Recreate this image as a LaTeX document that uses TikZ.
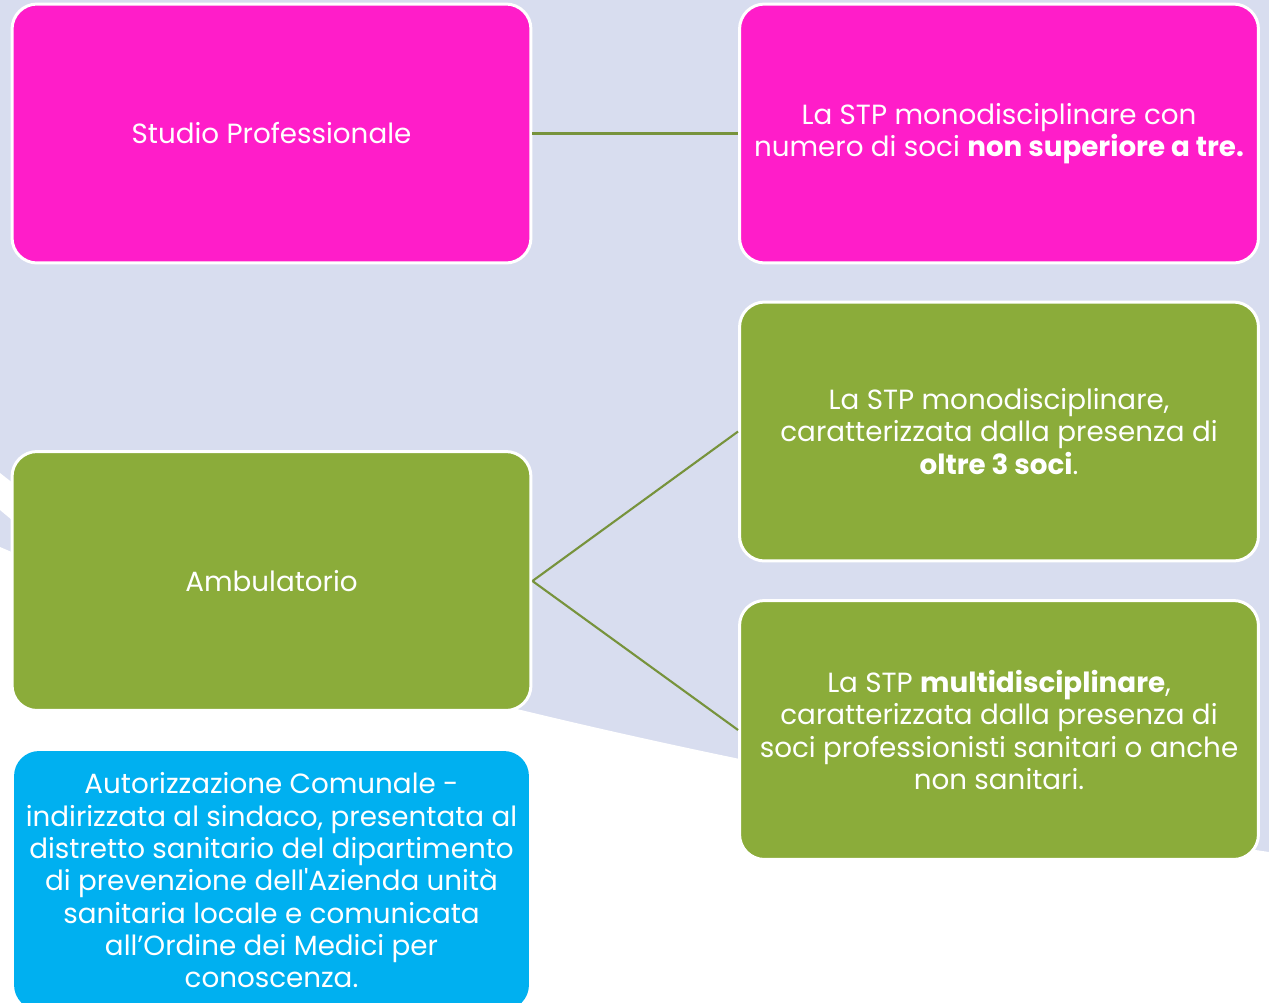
\documentclass[tikz,border=0pt]{standalone}
\usepackage{fontspec}
\setmainfont{Poppins}[Ligatures=TeXOff]
\definecolor{lavender}{HTML}{D8DDEF}
\definecolor{magentabox}{HTML}{FF1DC9}
\definecolor{greenbox}{HTML}{8BAC3A}
\definecolor{bluebox}{HTML}{00B0F0}
\definecolor{linkgreen}{HTML}{77933C}
\begin{document}
\begin{tikzpicture}[x=0.02cm,y=-0.02cm,
        box/.style={draw=white, line width=1.7pt, rounded corners=0.5cm,
            minimum width=10.38cm, minimum height=5.18cm, align=center,
            text=white, font=\fontsize{15.8}{18.4}\selectfont, inner sep=0pt},
        link/.style={draw=linkgreen, line width=1.2pt}]
        \useasboundingbox (0,0) rectangle (1269,1002);
        % background swoosh
        \fill [lavender] (0,0) rectangle (1269,1002);
        \fill [white] (0,547) .. controls (250,655) and (700,768) .. (1269,852)
            -- (1269,1002) -- (0,1002) -- cycle;
        \fill [white] (0,473) -- (60,520) -- (60,560) -- (0,510) -- cycle;
        % boxes
        \node [box, fill=magentabox] (studio) at (271.5,133.5) {Studio Professionale};
        \node [box, fill=magentabox] (stpmono) at (999,133.5)
            {La STP monodisciplinare con\\numero di soci \textbf{non superiore a tre.}};
        \node [box, fill=greenbox] (stpoltre) at (999,431.5)
            {La STP monodisciplinare,\\caratterizzata dalla presenza di\\\textbf{oltre 3 soci}.};
        \node [box, fill=greenbox] (ambul) at (271.5,581) {Ambulatorio};
        \node [box, fill=greenbox] (stpmulti) at (999,730)
            {La STP \textbf{multidisciplinare},\\caratterizzata dalla presenza di\\soci professionisti sanitari o anche\\non sanitari.};
        \node [box, draw=none, fill=bluebox, minimum width=10.3cm] (autor) at (271.5,880.5)
            {Autorizzazione Comunale -\\indirizzata al sindaco, presentata al\\distretto sanitario del dipartimento\\di prevenzione dell'Azienda unità\\sanitaria locale e comunicata\\all’Ordine dei Medici per\\conoscenza.};
        % connectors
        \draw [link] (studio.east) -- (stpmono.west);
        \draw [link] (ambul.east) -- (stpoltre.west);
        \draw [link] (ambul.east) -- (stpmulti.west);
\end{tikzpicture}
\end{document}
